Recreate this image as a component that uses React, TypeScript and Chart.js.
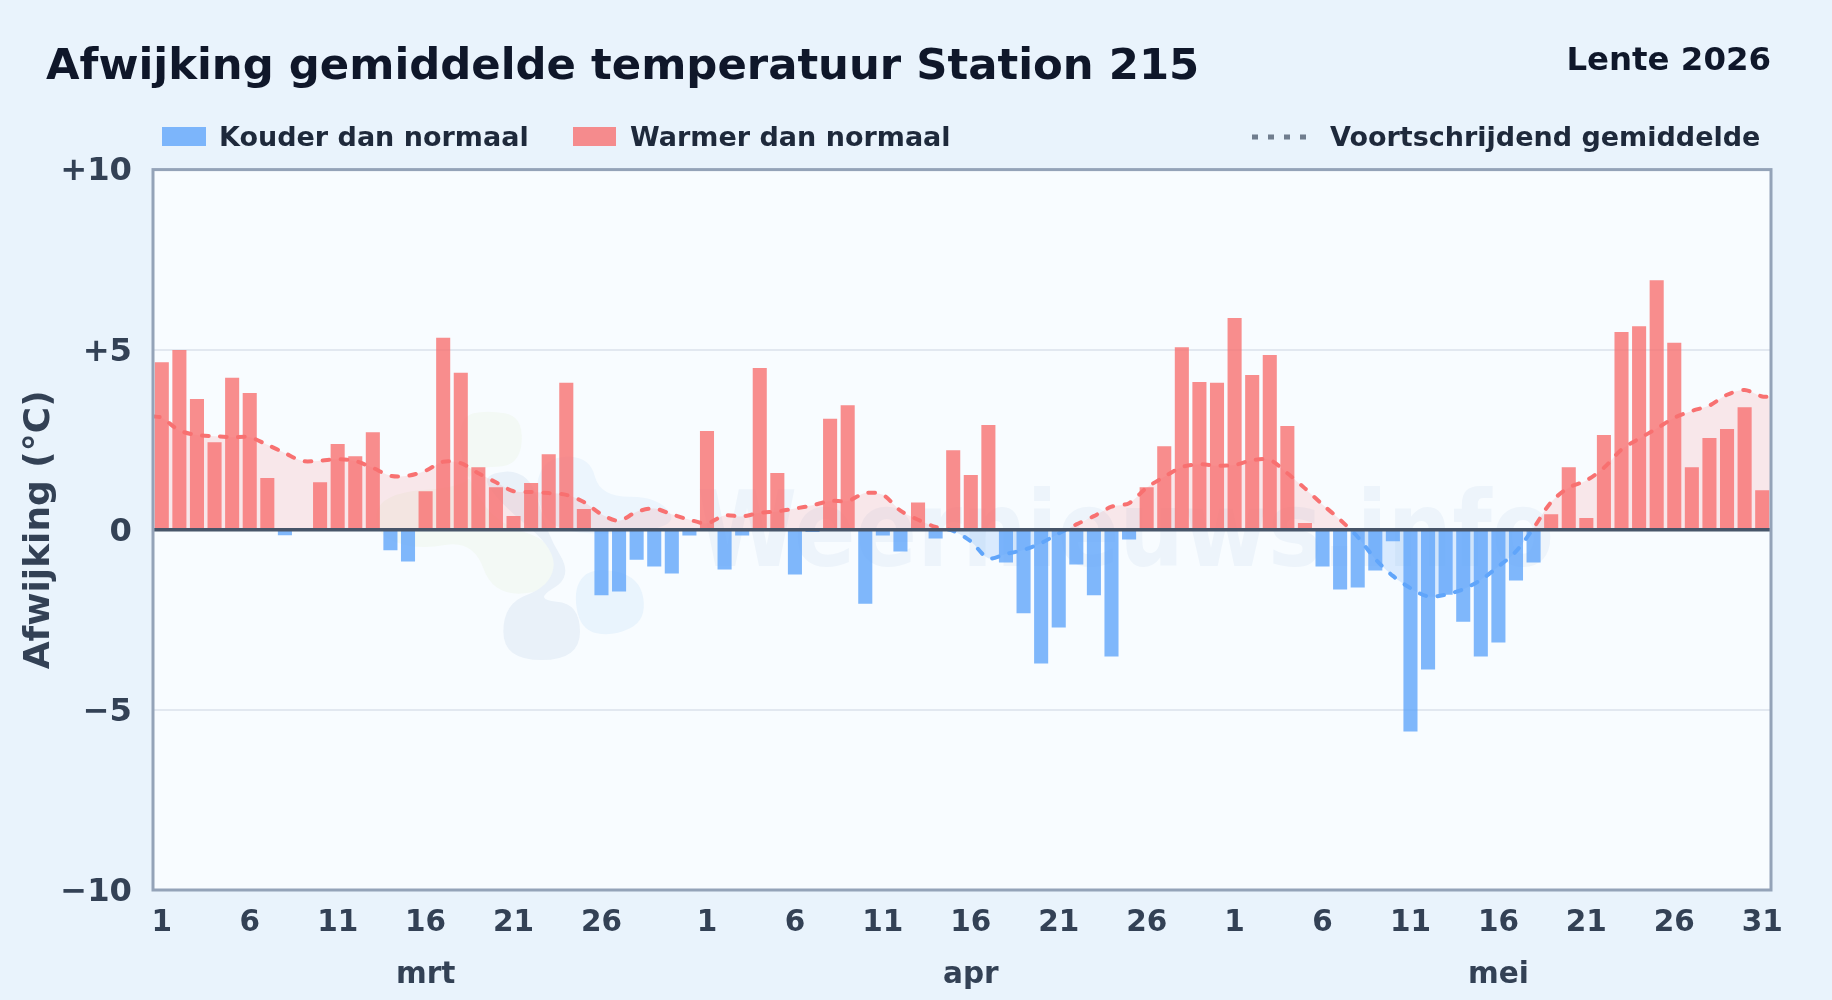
import React, { useEffect, useRef } from "react";
import { Chart, registerables } from "chart.js";

Chart.register(...registerables);

const titleText = "Afwijking gemiddelde temperatuur Station 215";
const seasonText = "Lente 2026";
const yAxisTitle = "Afwijking (°C)";
const legendCold = "Kouder dan normaal";
const legendWarm = "Warmer dan normaal";
const legendAvg = "Voortschrijdend gemiddelde";
const watermarkText = "Weernieuws.info";

const monthNames = ["mrt", "apr", "mei"];
const monthLengths = [31, 30, 31];

const yTickValues = [-10, -5, 0, 5, 10];
const yTickLabels = ["−10", "−5", "0", "+5", "+10"];

const marchValues = [4.65, 4.99, 3.63, 2.43, 4.22, 3.8, 1.44, -0.15, 0, 1.32, 2.38, 2.04, 2.71, -0.57, -0.88, 1.07, 5.33, 4.36, 1.74, 1.18, 0.38, 1.3, 2.1, 4.08, 0.58, -1.82, -1.71, -0.83, -1.02, -1.21, -0.16];
const aprilValues = [2.74, -1.1, -0.16, 4.49, 1.58, -1.24, -0.06, 3.08, 3.46, -2.05, -0.16, -0.6, 0.76, -0.24, 2.21, 1.52, 2.91, -0.91, -2.32, -3.71, -2.71, -0.96, -1.82, -3.52, -0.27, 1.18, 2.32, 5.07, 4.1, 4.08];
const mayValues = [5.88, 4.3, 4.85, 2.88, 0.19, -1.02, -1.66, -1.6, -1.13, -0.32, -5.6, -3.88, -1.8, -2.55, -3.52, -3.13, -1.41, -0.91, 0.43, 1.74, 0.33, 2.63, 5.49, 5.65, 6.93, 5.19, 1.74, 2.55, 2.8, 3.4, 1.1];

const movingAverage = [3.11, 2.76, 2.63, 2.6, 2.57, 2.57, 2.36, 2.13, 1.91, 1.92, 1.96, 1.91, 1.72, 1.5, 1.5, 1.64, 1.89, 1.85, 1.57, 1.32, 1.07, 1.05, 1.02, 0.97, 0.77, 0.43, 0.25, 0.5, 0.59, 0.43, 0.28, 0.18, 0.4, 0.37, 0.47, 0.51, 0.59, 0.68, 0.8, 0.8, 1.02, 0.97, 0.53, 0.28, 0.08, -0.03, -0.32, -0.79, -0.67, -0.56, -0.37, -0.1, 0.15, 0.38, 0.64, 0.74, 1.17, 1.47, 1.74, 1.82, 1.78, 1.8, 1.93, 1.94, 1.57, 1.15, 0.7, 0.28, -0.2, -0.81, -1.28, -1.62, -1.85, -1.8, -1.65, -1.39, -1.02, -0.6, 0.05, 0.77, 1.17, 1.37, 1.72, 2.23, 2.53, 2.81, 3.11, 3.3, 3.45, 3.75, 3.88, 3.7];
const movingAverageStart = 3.15;
const movingAverageEnd = 3.7;

const FONT = "'DejaVu Sans', sans-serif";
const INK = "#0f172a";
const LEGEND_INK = "#1e293b";
const TICK_INK = "#334155";
const COLD_BAR = "rgba(96,165,250,0.8)";
const WARM_BAR = "rgba(248,113,113,0.8)";
const COLD_LINE = "#60a5fa";
const WARM_LINE = "#f87171";

const dailyValues = [...marchValues, ...aprilValues, ...mayValues];
const dayLabels: string[] = [];
const tickTexts: (string | string[])[] = [];
monthLengths.forEach((len, m) => {
  for (let d = 1; d <= len; d++) {
    dayLabels.push(`${d} ${monthNames[m]}`);
    const show = (d - 1) % 5 === 0 && (d !== 31 || m === monthNames.length - 1);
    if (d === 16) tickTexts.push([String(d), monthNames[m]]);
    else tickTexts.push(show ? String(d) : "");
  }
});
const avgPoints = [
  { x: 0, y: movingAverageStart },
  ...movingAverage.map((y, i) => ({ x: i + 0.5, y })),
  { x: dayLabels.length, y: movingAverageEnd },
];

function blob(ctx: CanvasRenderingContext2D, color: string, pts: number[][]) {
  ctx.fillStyle = color;
  ctx.beginPath();
  const n = pts.length;
  const mid = (a: number[], b: number[]) => [(a[0] + b[0]) / 2, (a[1] + b[1]) / 2];
  const s = mid(pts[n - 1], pts[0]);
  ctx.moveTo(s[0], s[1]);
  for (let i = 0; i < n; i++) {
    const m = mid(pts[i], pts[(i + 1) % n]);
    ctx.quadraticCurveTo(pts[i][0], pts[i][1], m[0], m[1]);
  }
  ctx.closePath();
  ctx.fill();
}

const z = (x: number, y: number) => [360 + x / 3, 390 + y / 3];

const decorPlugin = {
  id: "decor",
  beforeDraw(chart: any) {
    const { ctx, chartArea: a } = chart;
    ctx.save();
    ctx.fillStyle = "#f8fcff";
    ctx.fillRect(a.left, a.top, a.right - a.left, a.bottom - a.top);
    blob(ctx, "#f3f9f5", [z(380, 60), z(490, 80), z(480, 230), z(340, 230), z(320, 290), z(60, 310), z(40, 430), z(170, 480), z(340, 450), z(400, 620), z(590, 600), z(580, 450), z(400, 400), z(300, 220), z(300, 80)]);
    blob(ctx, "#ecf5fd", [z(560, 200), z(690, 200), z(720, 320), z(900, 320), z(960, 420), z(580, 440), z(520, 300)]);
    blob(ctx, "#e9f1f9", [z(360, 250), z(510, 240), z(560, 430), z(640, 560), z(520, 630), z(660, 640), z(660, 810), z(430, 810), z(430, 640), z(570, 590), z(590, 480), z(420, 340)]);
    blob(ctx, "#e9f4fd", [z(700, 530), z(840, 560), z(860, 690), z(760, 740), z(660, 720), z(640, 590)]);
    ctx.fillStyle = "#edf4fb";
    ctx.font = `bold 105px ${FONT}`;
    ctx.textAlign = "left";
    ctx.textBaseline = "alphabetic";
    ctx.translate(697, 566);
    ctx.scale(0.865, 1);
    ctx.fillText(watermarkText, 0, 0);
    ctx.restore();
  },
  afterDatasetsDraw(chart: any) {
    const { ctx, chartArea: a, scales } = chart;
    ctx.save();
    const y0 = scales.y.getPixelForValue(0);
    ctx.strokeStyle = "#475569";
    ctx.lineWidth = 3.6;
    ctx.beginPath();
    ctx.moveTo(a.left, y0);
    ctx.lineTo(a.right, y0);
    ctx.stroke();
    ctx.strokeStyle = "#94a3b8";
    ctx.lineWidth = 3;
    ctx.strokeRect(a.left, a.top, a.right - a.left, a.bottom - a.top);
    ctx.restore();
  },
  afterDraw(chart: any) {
    const { ctx } = chart;
    ctx.save();
    ctx.textBaseline = "alphabetic";
    ctx.textAlign = "left";
    ctx.fillStyle = INK;
    ctx.font = `bold 43.35px ${FONT}`;
    ctx.fillText(titleText, 46, 79);
    ctx.textAlign = "right";
    ctx.font = `bold 32.4px ${FONT}`;
    ctx.fillText(seasonText, 1771, 70);

    ctx.textAlign = "left";
    ctx.font = `bold 27px ${FONT}`;
    ctx.fillStyle = COLD_BAR;
    ctx.fillRect(162, 127, 44, 19);
    ctx.fillStyle = WARM_BAR;
    ctx.fillRect(573, 127, 43, 19);
    ctx.fillStyle = LEGEND_INK;
    ctx.fillText(legendCold, 219, 146);
    ctx.fillText(legendWarm, 630, 146);
    ctx.fillText(legendAvg, 1330, 146);
    ctx.strokeStyle = "rgba(71,85,105,0.75)";
    ctx.lineWidth = 5;
    ctx.setLineDash([6, 10]);
    ctx.beginPath();
    ctx.moveTo(1252, 137);
    ctx.lineTo(1308, 137);
    ctx.stroke();
    ctx.restore();
  },
};

function strokeForAverage(ctx: any) {
  const chart = ctx.chart;
  if (!chart.chartArea) return WARM_LINE;
  const y = chart.scales.y;
  const g = chart.ctx.createLinearGradient(0, y.top, 0, y.bottom);
  const p = (y.getPixelForValue(0) - y.top) / (y.bottom - y.top);
  g.addColorStop(0, WARM_LINE);
  g.addColorStop(p, WARM_LINE);
  g.addColorStop(p, COLD_LINE);
  g.addColorStop(1, COLD_LINE);
  return g;
}

export default function App() {
  const ref = useRef<HTMLCanvasElement>(null);
  useEffect(() => {
    document.body.style.margin = "0";
    document.body.style.background = "#e9f3fc";
    const chart = new Chart(ref.current as HTMLCanvasElement, {
      type: "bar",
      data: {
        labels: dayLabels,
        datasets: [
          {
            type: "bar",
            label: "Afwijking",
            data: dailyValues,
            xAxisID: "x",
            yAxisID: "y",
            order: 1,
            grouped: false,
            backgroundColor: (c: any) => ((c.raw ?? 0) < 0 ? COLD_BAR : WARM_BAR),
            barPercentage: 0.8,
            categoryPercentage: 1,
            borderWidth: 0,
          },
          {
            type: "line",
            label: legendAvg,
            data: avgPoints,
            xAxisID: "xLine",
            yAxisID: "y",
            order: 2,
            pointRadius: 0,
            tension: 0.3,
            borderWidth: 4,
            borderDash: [6.5, 11.5],
            borderCapStyle: "round",
            borderColor: strokeForAverage,
            fill: { target: { value: 0 }, above: "rgba(248,113,113,0.15)", below: "rgba(96,165,250,0.2)" },
          },
        ],
      } as any,
      options: {
        animation: false,
        responsive: false,
        devicePixelRatio: 1,
        layout: { padding: { top: 169.6, right: 61, bottom: 0, left: 0 } },
        plugins: { legend: { display: false }, title: { display: false }, tooltip: { enabled: false } },
        scales: {
          x: {
            type: "category",
            offset: true,
            grid: { display: false, drawTicks: false },
            border: { display: false },
            afterFit: (s: any) => { s.height = 110; },
            ticks: {
              autoSkip: false,
              maxRotation: 0,
              minRotation: 0,
              padding: 7,
              color: TICK_INK,
              font: { family: FONT, weight: "bold", size: 29.5, lineHeight: 1.78 },
              callback: (_v: any, i: number) => tickTexts[i],
            },
          },
          xLine: { type: "linear", display: false, offset: false, min: 0, max: dayLabels.length },
          y: {
            type: "linear",
            min: -10,
            max: 10,
            afterFit: (s: any) => { s.width = 153; },
            afterBuildTicks: (s: any) => { s.ticks = yTickValues.map((value) => ({ value })); },
            grid: { color: "#e2e8f0", lineWidth: 2, drawTicks: false },
            border: { display: false },
            title: { display: true, text: yAxisTitle, color: TICK_INK, padding: { top: 18, bottom: 0 }, font: { family: FONT, weight: "bold", size: 36 } },
            ticks: {
              padding: 21,
              color: TICK_INK,
              font: { family: FONT, weight: "bold", size: 32.2, lineHeight: "5px" },
              callback: (v: any) => ["", yTickLabels[yTickValues.indexOf(Number(v))]],
            },
          },
        },
      },
      plugins: [decorPlugin],
    } as any);
    return () => chart.destroy();
  }, []);
  return (
    <div style={{ width: 1832, height: 1000 }}>
      <canvas ref={ref} width={1832} height={1000} style={{ display: "block", width: 1832, height: 1000 }} />
    </div>
  );
}
